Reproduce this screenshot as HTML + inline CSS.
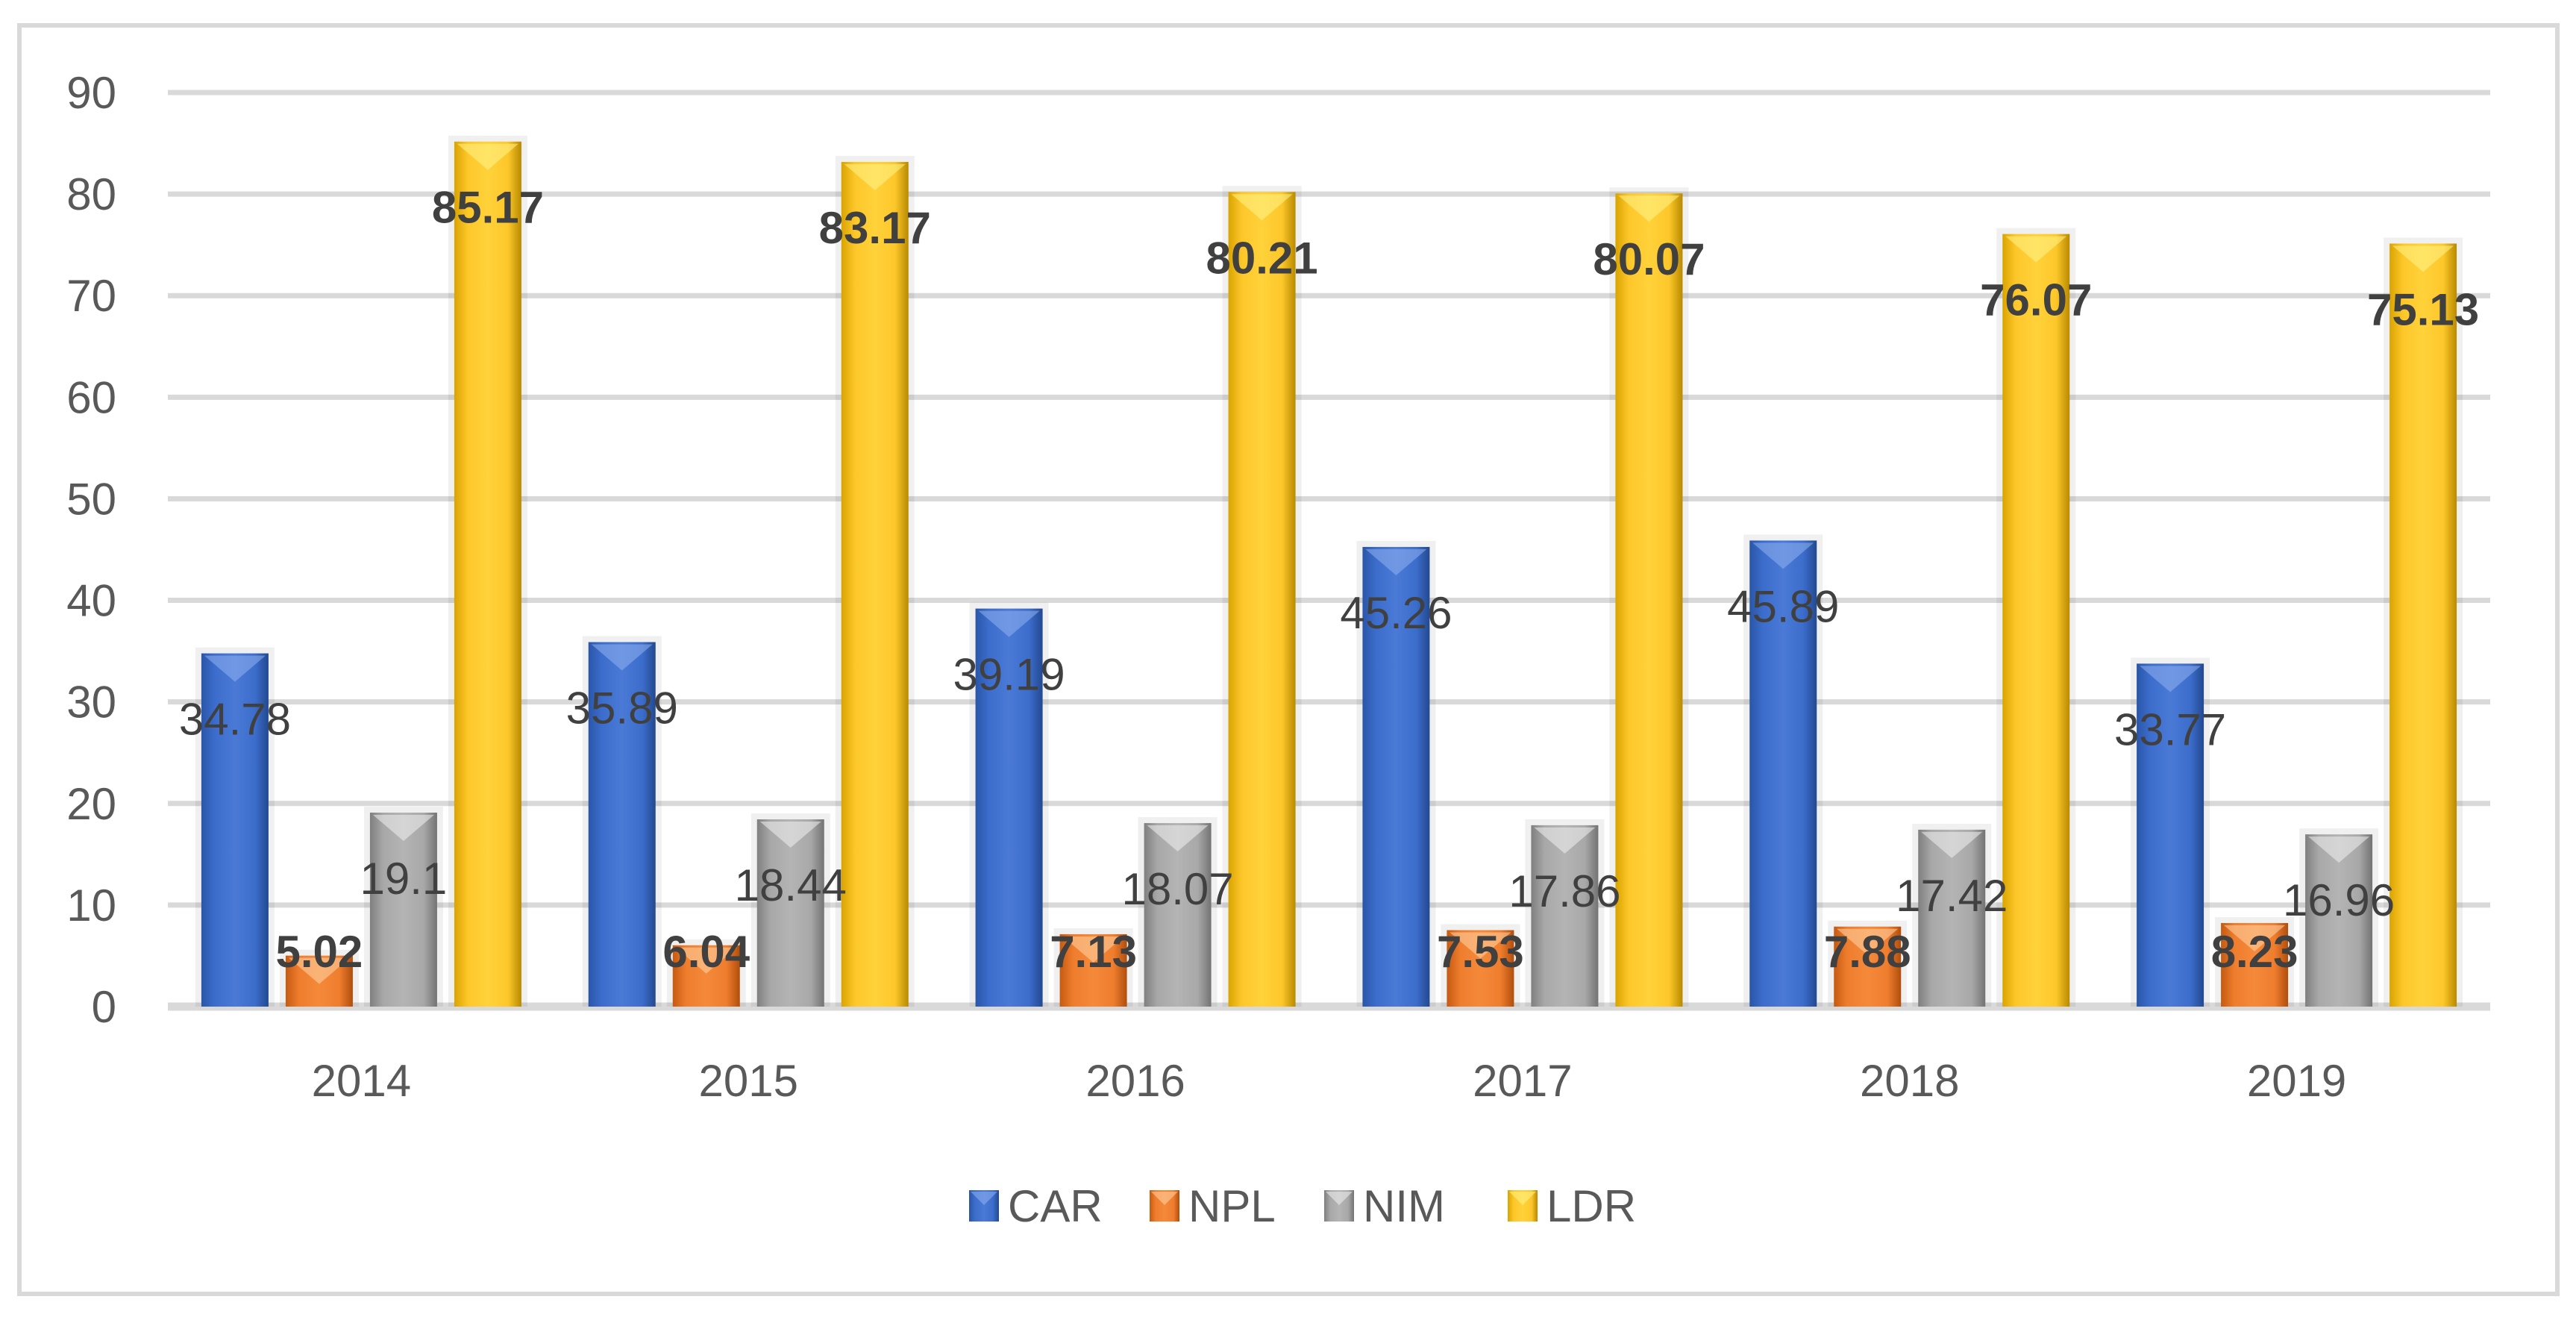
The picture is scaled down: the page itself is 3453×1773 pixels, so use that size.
<!DOCTYPE html>
<html><head><meta charset="utf-8"><style>
html,body{margin:0;padding:0;background:#fff;}
svg{display:block;font-family:"Liberation Sans",sans-serif;}
</style></head><body>
<svg id="chart" width="3453" height="1773" viewBox="0 0 3453 1773" xmlns="http://www.w3.org/2000/svg">
<defs>
 <linearGradient id="g-car" x1="0" x2="1" y1="0" y2="0"><stop offset="0" stop-color="#2a56a8"/><stop offset="0.2" stop-color="#3c6dcc"/><stop offset="0.5" stop-color="#4a7ad6"/><stop offset="0.8" stop-color="#3c6dcc"/><stop offset="1" stop-color="#23498f"/></linearGradient>
 <linearGradient id="g-npl" x1="0" x2="1" y1="0" y2="0"><stop offset="0" stop-color="#c55a11"/><stop offset="0.2" stop-color="#ef7d2e"/><stop offset="0.5" stop-color="#f5893a"/><stop offset="0.8" stop-color="#ef7d2e"/><stop offset="1" stop-color="#b04e0c"/></linearGradient>
 <linearGradient id="g-nim" x1="0" x2="1" y1="0" y2="0"><stop offset="0" stop-color="#7f7f7f"/><stop offset="0.2" stop-color="#a8a8a8"/><stop offset="0.5" stop-color="#b4b4b4"/><stop offset="0.8" stop-color="#a8a8a8"/><stop offset="1" stop-color="#737373"/></linearGradient>
 <linearGradient id="g-ldr" x1="0" x2="1" y1="0" y2="0"><stop offset="0" stop-color="#d9a400"/><stop offset="0.2" stop-color="#fdc72a"/><stop offset="0.5" stop-color="#ffd23a"/><stop offset="0.8" stop-color="#fdc72a"/><stop offset="1" stop-color="#b88a00"/></linearGradient>
</defs>
<rect x="26" y="34" width="3402" height="1700" fill="#fff" stroke="#d9d9d9" stroke-width="6"/>
<g id="grid"></g><g id="bars"></g><g id="labels"></g>
<g id="legend"></g>
</svg>
<script>
const categories = ["2014","2015","2016","2017","2018","2019"];
const seriesNames = ["CAR","NPL","NIM","LDR"];
const car = [34.78,35.89,39.19,45.26,45.89,33.77];
const npl = [5.02,6.04,7.13,7.53,7.88,8.23];
const nim = [19.1,18.44,18.07,17.86,17.42,16.96];
const ldr = [85.17,83.17,80.21,80.07,76.07,75.13];
const yTicks = [0,10,20,30,40,50,60,70,80,90];

const NS="http://www.w3.org/2000/svg";
const L=225,R=3338,Y0=1349,Y90=124;
const y=v=>Y0-(v/90)*(Y0-Y90);
const catW=(R-L)/categories.length;
const barW=90, step=113;
const xBar=(ci,si)=>L+catW*(ci+0.5)+(si-1.5)*step-barW/2;
function mk(tag,attrs,parent){const e=document.createElementNS(NS,tag);for(const k in attrs)e.setAttribute(k,attrs[k]);parent.appendChild(e);return e;}
const grid=document.getElementById('grid'),bars=document.getElementById('bars'),labels=document.getElementById('labels'),legend=document.getElementById('legend');
yTicks.forEach(t=>{
 const ln=mk('line',{x1:L,x2:R,y1:y(t),y2:y(t),stroke:'#d9d9d9','stroke-width':t===0?11:7},grid);
 
 
 const tx=mk('text',{x:156,y:y(t)+21,'text-anchor':'end','font-size':60,fill:'#595959'},grid);
 tx.textContent=t;
 
 
});
categories.forEach((c,ci)=>{
 const tx=mk('text',{x:L+catW*(ci+0.5),y:1469,'text-anchor':'middle','font-size':60,fill:'#595959'},grid);
 tx.textContent=c;
 
 
});
const series=[car,npl,nim,ldr];
const fills=['url(#g-car)','url(#g-npl)','url(#g-nim)','url(#g-ldr)'];
const tops=['#8fb0ee','#ffd6a8','#f0f0f0','#fff48a'];
const bold=[false,true,false,true];
series.forEach((vals,si)=>{
 vals.forEach((v,ci)=>{
  const x=xBar(ci,si),yt=y(v),h=Y0-yt;
  const sh=mk('rect',{x:x-8,y:yt-8,width:barW+16,height:h+8,fill:'#000',opacity:0.06},bars);
  
  
  const r=mk('rect',{x:x,y:yt,width:barW,height:h,fill:fills[si]},bars);
  
  
  const tri=mk('polygon',{points:`${x+4},${yt+3} ${x+barW-4},${yt+3} ${x+barW/2},${yt+38}`,fill:tops[si],opacity:0.55},bars);
  
  
  let ly=yt+88; if(si===1) ly=Math.min(ly,1275);
  const tx=mk('text',{x:x+barW/2,y:ly+21,'text-anchor':'middle','font-size':60,fill:'#404040','font-weight':bold[si]?'bold':'normal'},labels);
  tx.textContent=v;
  
  
 });
});
const legX=[1299,1541,1775,2021];
seriesNames.forEach((n,si)=>{
 const m=mk('rect',{x:legX[si],y:1595,width:40,height:42,fill:fills[si]},legend);
 
 
 const tri=mk('polygon',{points:`${legX[si]+2},${1597} ${legX[si]+38},${1597} ${legX[si]+20},${1615}`,fill:tops[si],opacity:0.55},legend);
 
 
 const tx=mk('text',{x:legX[si]+52,y:1637,'font-size':60,fill:'#595959'},legend);
 tx.textContent=n;
 
 
});
</script>
</body></html>
